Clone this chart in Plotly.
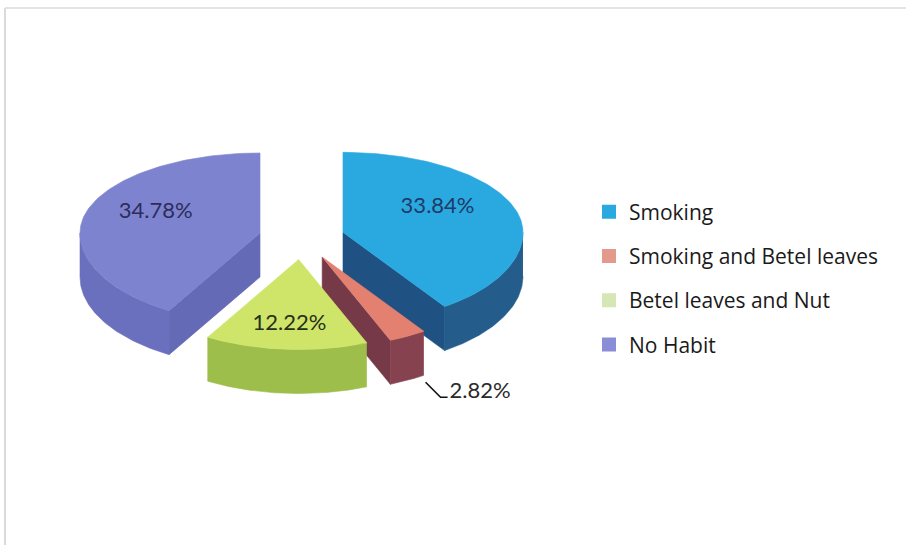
import numpy as np
import plotly.graph_objects as go

# ---- data ----
categories = ["Smoking", "Smoking and Betel leaves", "Betel leaves and Nut", "No Habit"]
percentages = [33.84, 2.82, 12.22, 34.78]
label_texts = ["33.84%", "2.82%", "12.22%", "34.78%"]

# ---- styling ----
top_colors = ["#2AA9E0", "#E3806F", "#CFE56A", "#7E83CF"]
wall_colors = ["#245D8C", "#86434F", "#9DBE4A", "#6A6FBE"]
cut_colors = ["#1F5283", "#763948", "#8FB042", "#646AB6"]
legend_colors = ["#2AA9E0", "#E39A8C", "#D6E6B4", "#8A8ED6"]
label_colors = ["#1E3A66", "#2a2a2a", "#26301A", "#2B2D5A"]

# pie geometry in pixel space (y grows downward)
CX0, CY0 = 301.7, 238.0
RX, RY_BACK, RY_FRONT = 180.0, 80.0, 90.0
DEPTH = 44.0
EXPLODE = 0.24


def proj(cx, cy, theta_deg, r=1.0):
    th = np.radians(np.asarray(theta_deg, dtype=float))
    s, c = np.sin(th), np.cos(th)
    ry = np.where(c > 0, RY_BACK, RY_FRONT)
    return cx + RX * r * s, cy - ry * r * c


vals = np.array(percentages, dtype=float)
ends = np.cumsum(vals) / vals.sum() * 360.0
starts = ends - vals / vals.sum() * 360.0
mids = (starts + ends) / 2.0
centers = [tuple(float(v) for v in proj(CX0, CY0, m, EXPLODE)) for m in mids]

fig = go.Figure()


def add_poly(xs, ys, color):
    fig.add_trace(go.Scatter(
        x=list(xs), y=list(ys), mode="lines", fill="toself",
        fillcolor=color, line=dict(color=color, width=0.6),
        hoverinfo="skip", showlegend=False))


def draw_slice(i):
    cx, cy = centers[i]
    a0, a1 = starts[i], ends[i]
    # cut faces that turn toward the viewer
    for edge, normal in ((a0, a0 - 90.0), (a1, a1 + 90.0)):
        if np.cos(np.radians(normal)) < -1e-6:
            ex, ey = proj(cx, cy, edge)
            add_poly([cx, float(ex), float(ex), cx, cx],
                     [cy, float(ey), float(ey) + DEPTH, cy + DEPTH, cy], cut_colors[i])
    # front part of the outer wall
    lo, hi = max(a0, 90.0), min(a1, 270.0)
    if hi > lo:
        t = np.linspace(lo, hi, 80)
        wx, wy = proj(cx, cy, t)
        add_poly(np.concatenate([wx, wx[::-1]]),
                 np.concatenate([wy, wy[::-1] + DEPTH]), wall_colors[i])
    # top face
    t = np.linspace(a0, a1, 120)
    tx, ty = proj(cx, cy, t)
    add_poly(np.concatenate([[cx], tx, [cx]]), np.concatenate([[cy], ty, [cy]]), top_colors[i])


# back slices first, front slices last
for idx in (3, 0, 1, 2):
    draw_slice(idx)

# data labels
label_r = [0.55, None, 0.72, 0.6]
label_dy = [-12, 0, 0, -8]
for i, txt in enumerate(label_texts):
    if label_r[i] is None:
        continue
    lx, ly = proj(centers[i][0], centers[i][1], mids[i], label_r[i])
    fig.add_trace(go.Scatter(
        x=[float(lx)], y=[float(ly) + label_dy[i]], mode="text", text=[txt],
        textfont=dict(family="Lato", size=22, color=label_colors[i]),
        hoverinfo="skip", showlegend=False))

# small slice: label outside with a leader line
px, py = proj(centers[1][0], centers[1][1], mids[1])
sx, sy = float(px) + 18, float(py) + DEPTH + 2
fig.add_trace(go.Scatter(
    x=[sx, sx + 15, sx + 22], y=[sy, sy + 15, sy + 15], mode="lines",
    line=dict(color="#111111", width=1.6), hoverinfo="skip", showlegend=False))
fig.add_trace(go.Scatter(
    x=[sx + 24], y=[sy + 10], mode="text", text=[label_texts[1]],
    textposition="middle right",
    textfont=dict(family="Lato", size=22, color=label_colors[1]),
    hoverinfo="skip", showlegend=False))

# legend entries
for i, name in enumerate(categories):
    fig.add_trace(go.Scatter(
        x=[None], y=[None], mode="markers", name=name, legendgroup=name,
        marker=dict(symbol="square", size=14, color=legend_colors[i]),
        showlegend=True))

fig.update_layout(
    width=906, height=545,
    margin=dict(l=0, r=0, t=0, b=0),
    paper_bgcolor="white", plot_bgcolor="white",
    xaxis=dict(range=[0, 906], visible=False, fixedrange=True),
    yaxis=dict(range=[545, 0], visible=False, fixedrange=True),
    legend=dict(x=589 / 906, y=1 - 191.5 / 545, xanchor="left", yanchor="top",
                font=dict(family="Open Sans", size=21, color="#1a1a1a"),
                tracegroupgap=14, itemwidth=30, bgcolor="rgba(0,0,0,0)"),
    shapes=[
        dict(type="line", xref="x", yref="y", x0=5, y0=8, x1=5, y1=545,
             line=dict(color="#dadada", width=2)),
        dict(type="line", xref="x", yref="y", x0=5, y0=8, x1=906, y1=8,
             line=dict(color="#e4e4e4", width=2)),
    ],
)

fig.write_html("out.html")
